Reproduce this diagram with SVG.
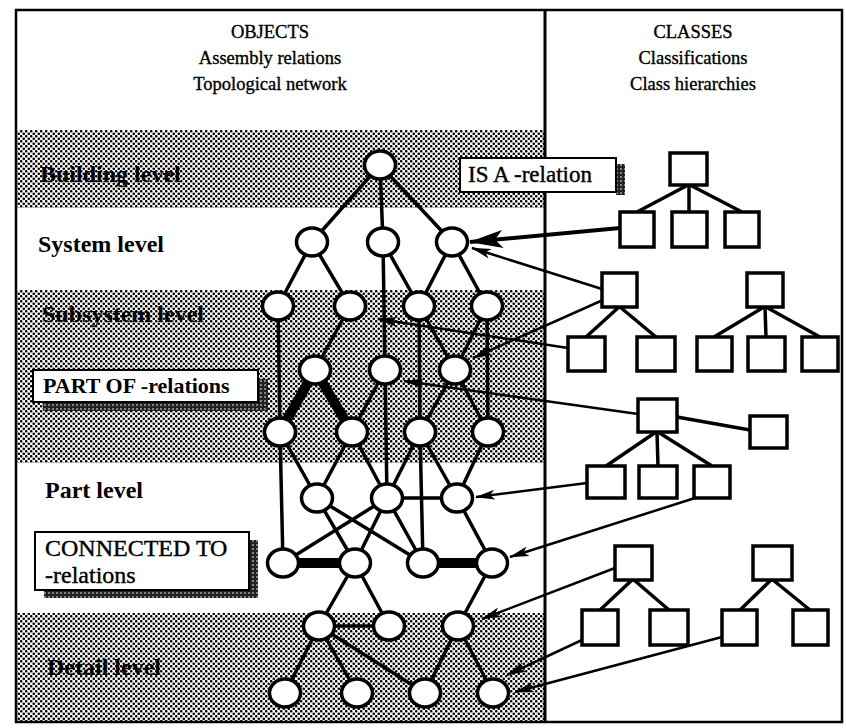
<svg xmlns="http://www.w3.org/2000/svg" width="846" height="728" viewBox="0 0 846 728">
<style>
text{font-family:"Liberation Serif",serif;fill:#000}
.hd{font-size:18.5px;stroke:#000;stroke-width:0.35}
.lv{font-size:24px;font-weight:bold}
.bx{font-size:23px;stroke:#000;stroke-width:0.4}
.obj{fill:#fff;stroke:#000;stroke-width:3.5}
.cls{fill:#fff;stroke:#000;stroke-width:3.5}
.e{stroke:#000;stroke-width:3.5;fill:none;stroke-linecap:round}
.t{stroke:#000;stroke-width:10;fill:none}
.tl{stroke:#000;stroke-width:3.5;fill:none}
.ar{stroke:#000;stroke-width:2.5;fill:none;marker-end:url(#ah)}
.arL{stroke:#000;stroke-width:4;fill:none;marker-end:url(#ahL)}
.box{fill:#fff;stroke:#000;stroke-width:2}
.band{fill:url(#dots)}
.shadow{fill:url(#dense)}
</style>
<defs>
<pattern id="dots" width="5" height="5" patternUnits="userSpaceOnUse">
<rect width="5" height="5" fill="#fff"/>
<circle cx="1.25" cy="1.25" r="1.3" fill="#000"/>
<circle cx="3.75" cy="3.75" r="1.3" fill="#000"/>
</pattern>
<pattern id="dense" width="4" height="4" patternUnits="userSpaceOnUse">
<rect width="4" height="4" fill="#222"/>
<circle cx="1" cy="1" r="0.8" fill="#fff"/>
</pattern>
<marker id="ah" viewBox="0 0 20 12" refX="19" refY="6" markerWidth="20" markerHeight="12" markerUnits="userSpaceOnUse" orient="auto">
<path d="M0,1 L20,6 L0,11 L5,6 z" fill="#000"/>
</marker>
<marker id="ahL" viewBox="0 0 34 18" refX="33" refY="9" markerWidth="34" markerHeight="18" markerUnits="userSpaceOnUse" orient="auto">
<path d="M0,0 L34,9 L0,18 L8,9 z" fill="#000"/>
</marker>
</defs>

<rect width="846" height="728" fill="#fff"/>

<g id="bands">
<rect class="band" x="16" y="130" width="529" height="78"/>
<rect class="band" x="16" y="290" width="529" height="173"/>
<rect class="band" x="16" y="613" width="529" height="109"/>
</g>

<g id="frame" fill="none" stroke="#000">
<rect x="16" y="10" width="826" height="712" stroke-width="2.5"/>
<line x1="545" y1="10" x2="545" y2="722" stroke-width="3"/>
</g>

<g id="headers">
<text class="hd" x="270" y="38" text-anchor="middle">OBJECTS</text>
<text class="hd" x="270" y="64" text-anchor="middle">Assembly relations</text>
<text class="hd" x="270" y="90" text-anchor="middle">Topological network</text>
<text class="hd" x="693" y="38" text-anchor="middle">CLASSES</text>
<text class="hd" x="693" y="64" text-anchor="middle">Classifications</text>
<text class="hd" x="693" y="90" text-anchor="middle">Class hierarchies</text>
</g>

<g id="levels">
<text class="lv" x="40" y="182">Building level</text>
<text class="lv" x="38" y="252">System level</text>
<text class="lv" x="42" y="322">Subsystem level</text>
<text class="lv" x="45" y="498">Part level</text>
<text class="lv" x="47" y="675">Detail level</text>
</g>

<g id="class-trees">
<g id="tree1">
<line class="tl" x1="688" y1="185" x2="637" y2="212"/>
<line class="tl" x1="689" y1="185" x2="689" y2="212"/>
<line class="tl" x1="690" y1="185" x2="742" y2="212"/>
<rect id="c1root" class="cls" x="670" y="153" width="37" height="32"/>
<rect id="c1a" class="cls" x="620" y="212" width="34" height="35"/>
<rect id="c1b" class="cls" x="672" y="212" width="35" height="35"/>
<rect id="c1c" class="cls" x="725" y="212" width="34" height="35"/>
</g>
<g id="tree2">
<line class="tl" x1="619" y1="307" x2="586" y2="337"/>
<line class="tl" x1="620" y1="307" x2="656" y2="337"/>
<rect id="c2root" class="cls" x="602" y="273" width="35" height="34"/>
<rect id="c2a" class="cls" x="568" y="337" width="37" height="34"/>
<rect id="c2b" class="cls" x="637" y="337" width="38" height="34"/>
</g>
<g id="tree3">
<line class="tl" x1="764" y1="307" x2="714" y2="337"/>
<line class="tl" x1="765" y1="307" x2="766" y2="337"/>
<line class="tl" x1="766" y1="307" x2="820" y2="337"/>
<rect id="c3root" class="cls" x="747" y="273" width="36" height="34"/>
<rect id="c3a" class="cls" x="697" y="337" width="35" height="34"/>
<rect id="c3b" class="cls" x="748" y="337" width="37" height="34"/>
<rect id="c3c" class="cls" x="802" y="337" width="36" height="34"/>
</g>
<g id="tree4">
<line class="tl" x1="677" y1="417" x2="750" y2="430"/>
<line class="tl" x1="656" y1="432" x2="606" y2="466"/>
<line class="tl" x1="657" y1="432" x2="658" y2="466"/>
<line class="tl" x1="658" y1="432" x2="712" y2="466"/>
<rect id="c4root" class="cls" x="638" y="399" width="39" height="33"/>
<rect id="c4side" class="cls" x="750" y="416" width="37" height="32"/>
<rect id="c4a" class="cls" x="587" y="466" width="38" height="32"/>
<rect id="c4b" class="cls" x="639" y="466" width="38" height="32"/>
<rect id="c4c" class="cls" x="694" y="466" width="36" height="32"/>
</g>
<g id="tree5">
<line class="tl" x1="632" y1="580" x2="600" y2="610"/>
<line class="tl" x1="634" y1="580" x2="669" y2="610"/>
<rect id="c5root" class="cls" x="615" y="546" width="37" height="34"/>
<rect id="c5a" class="cls" x="582" y="610" width="36" height="35"/>
<rect id="c5b" class="cls" x="650" y="610" width="38" height="35"/>
</g>
<g id="tree6">
<line class="tl" x1="771" y1="580" x2="740" y2="610"/>
<line class="tl" x1="773" y1="580" x2="810" y2="610"/>
<rect id="c6root" class="cls" x="753" y="546" width="39" height="34"/>
<rect id="c6a" class="cls" x="722" y="610" width="35" height="35"/>
<rect id="c6b" class="cls" x="793" y="610" width="35" height="35"/>
</g>
</g>

<g id="connectors">
<line class="e" x1="380" y1="165" x2="312" y2="242"/>
<line class="e" x1="380" y1="165" x2="383" y2="242"/>
<line class="e" x1="380" y1="165" x2="452" y2="242"/>
<line class="e" x1="312" y1="242" x2="278" y2="306"/>
<line class="e" x1="312" y1="242" x2="350" y2="306"/>
<line class="e" x1="383" y1="242" x2="419" y2="306"/>
<line class="e" x1="452" y1="242" x2="419" y2="306"/>
<line class="e" x1="452" y1="242" x2="487" y2="306"/>
<line class="e" x1="383" y1="242" x2="385" y2="370"/>
<line class="e" x1="278" y1="306" x2="280" y2="432"/>
<line class="e" x1="350" y1="306" x2="315" y2="370"/>
<line class="e" x1="419" y1="306" x2="420" y2="432"/>
<line class="e" x1="419" y1="306" x2="455" y2="370"/>
<line class="e" x1="487" y1="306" x2="455" y2="370"/>
<line class="e" x1="487" y1="306" x2="488" y2="432"/>
<line class="t" x1="315" y1="370" x2="280" y2="432"/>
<line class="t" x1="315" y1="370" x2="352" y2="432"/>
<line class="e" x1="385" y1="370" x2="352" y2="432"/>
<line class="e" x1="385" y1="370" x2="387" y2="498"/>
<line class="e" x1="455" y1="370" x2="420" y2="432"/>
<line class="e" x1="455" y1="370" x2="488" y2="432"/>
<line class="e" x1="280" y1="432" x2="283" y2="563"/>
<line class="e" x1="280" y1="432" x2="317" y2="498"/>
<line class="e" x1="352" y1="432" x2="317" y2="498"/>
<line class="e" x1="352" y1="432" x2="387" y2="498"/>
<line class="e" x1="420" y1="432" x2="387" y2="498"/>
<line class="e" x1="420" y1="432" x2="457" y2="498"/>
<line class="e" x1="420" y1="432" x2="423" y2="563"/>
<line class="e" x1="488" y1="432" x2="457" y2="498"/>
<line class="e" x1="387" y1="498" x2="457" y2="498"/>
<line class="e" x1="317" y1="498" x2="355" y2="563"/>
<line class="e" x1="317" y1="498" x2="423" y2="563"/>
<line class="e" x1="387" y1="498" x2="283" y2="563"/>
<line class="e" x1="387" y1="498" x2="355" y2="563"/>
<line class="e" x1="387" y1="498" x2="423" y2="563"/>
<line class="e" x1="457" y1="498" x2="492" y2="563"/>
<line class="t" x1="283" y1="563" x2="355" y2="563"/>
<line class="t" x1="423" y1="563" x2="492" y2="563"/>
<line class="e" x1="355" y1="563" x2="319" y2="626"/>
<line class="e" x1="355" y1="563" x2="389" y2="626"/>
<line class="e" x1="492" y1="563" x2="458" y2="626"/>
<line class="e" x1="319" y1="626" x2="389" y2="626"/>
<line class="e" x1="319" y1="626" x2="285" y2="693"/>
<line class="e" x1="319" y1="626" x2="357" y2="693"/>
<line class="e" x1="319" y1="626" x2="425" y2="693"/>
<line class="e" x1="458" y1="626" x2="425" y2="693"/>
<line class="e" x1="458" y1="626" x2="493" y2="693"/>
</g>

<g id="objects">
<g id="n-building"><ellipse class="obj" cx="380" cy="165" rx="15.5" ry="14"/></g>
<g id="n-sys1"><ellipse class="obj" cx="312" cy="242" rx="15.5" ry="14"/></g>
<g id="n-sys2"><ellipse class="obj" cx="383" cy="242" rx="15.5" ry="14"/></g>
<g id="n-sys3"><ellipse class="obj" cx="452" cy="242" rx="15.5" ry="14"/></g>
<g id="n-sub1"><ellipse class="obj" cx="278" cy="306" rx="15.5" ry="14"/></g>
<g id="n-sub2"><ellipse class="obj" cx="350" cy="306" rx="15.5" ry="14"/></g>
<g id="n-sub3"><ellipse class="obj" cx="419" cy="306" rx="15.5" ry="14"/></g>
<g id="n-sub4"><ellipse class="obj" cx="487" cy="306" rx="15.5" ry="14"/></g>
<g id="n-a1"><ellipse class="obj" cx="315" cy="370" rx="15.5" ry="14"/></g>
<g id="n-a2"><ellipse class="obj" cx="385" cy="370" rx="15.5" ry="14"/></g>
<g id="n-a3"><ellipse class="obj" cx="455" cy="370" rx="15.5" ry="14"/></g>
<g id="n-b1"><ellipse class="obj" cx="280" cy="432" rx="15.5" ry="14"/></g>
<g id="n-b2"><ellipse class="obj" cx="352" cy="432" rx="15.5" ry="14"/></g>
<g id="n-b3"><ellipse class="obj" cx="420" cy="432" rx="15.5" ry="14"/></g>
<g id="n-b4"><ellipse class="obj" cx="488" cy="432" rx="15.5" ry="14"/></g>
<g id="n-part1"><ellipse class="obj" cx="317" cy="498" rx="15.5" ry="14"/></g>
<g id="n-part2"><ellipse class="obj" cx="387" cy="498" rx="15.5" ry="14"/></g>
<g id="n-part3"><ellipse class="obj" cx="457" cy="498" rx="15.5" ry="14"/></g>
<g id="n-c1"><ellipse class="obj" cx="283" cy="563" rx="15.5" ry="14"/></g>
<g id="n-c2"><ellipse class="obj" cx="355" cy="563" rx="15.5" ry="14"/></g>
<g id="n-c3"><ellipse class="obj" cx="423" cy="563" rx="15.5" ry="14"/></g>
<g id="n-c4"><ellipse class="obj" cx="492" cy="563" rx="15.5" ry="14"/></g>
<g id="n-d1"><ellipse class="obj" cx="319" cy="626" rx="15.5" ry="14"/></g>
<g id="n-d2"><ellipse class="obj" cx="389" cy="626" rx="15.5" ry="14"/></g>
<g id="n-d3"><ellipse class="obj" cx="458" cy="626" rx="15.5" ry="14"/></g>
<g id="n-e1"><ellipse class="obj" cx="285" cy="693" rx="15.5" ry="14"/></g>
<g id="n-e2"><ellipse class="obj" cx="357" cy="693" rx="15.5" ry="14"/></g>
<g id="n-e3"><ellipse class="obj" cx="425" cy="693" rx="15.5" ry="14"/></g>
<g id="n-e4"><ellipse class="obj" cx="493" cy="693" rx="15.5" ry="14"/></g>
</g>

<g id="isa-arrows">
<line class="arL" x1="620" y1="228" x2="470" y2="242"/>
<line class="ar" x1="602" y1="289" x2="472" y2="248"/>
<line class="ar" x1="603" y1="300" x2="473" y2="358"/>
<line class="ar" x1="568" y1="348" x2="378" y2="319"/>
<line class="ar" x1="638" y1="414" x2="404" y2="381"/>
<line class="ar" x1="587" y1="483" x2="476" y2="497"/>
<line class="ar" x1="695" y1="498" x2="510" y2="557"/>
<line class="ar" x1="615" y1="568" x2="482" y2="619"/>
<line class="ar" x1="582" y1="640" x2="507" y2="675"/>
<line class="ar" x1="722" y1="637" x2="515" y2="692"/>
</g>

<g id="label-isa">
<rect class="shadow" x="616" y="164" width="9" height="31"/>
<rect class="box" x="460" y="158" width="156" height="34"/>
<text class="bx" x="468" y="182">IS A -relation</text>
</g>
<g id="label-partof">
<rect class="shadow" x="43" y="379" width="225" height="32"/>
<rect class="box" x="33" y="370" width="225" height="32"/>
<text class="bx" x="43" y="393" style="font-weight:bold;font-size:22px;stroke-width:0">PART OF -relations</text>
</g>
<g id="label-connected">
<rect class="shadow" x="44" y="540" width="214" height="58"/>
<rect class="box" x="35" y="532" width="214" height="58"/>
<text class="bx" x="45" y="556" style="font-size:24px">CONNECTED TO</text>
<text class="bx" x="45" y="583" style="font-size:24px">-relations</text>
</g>
</svg>
